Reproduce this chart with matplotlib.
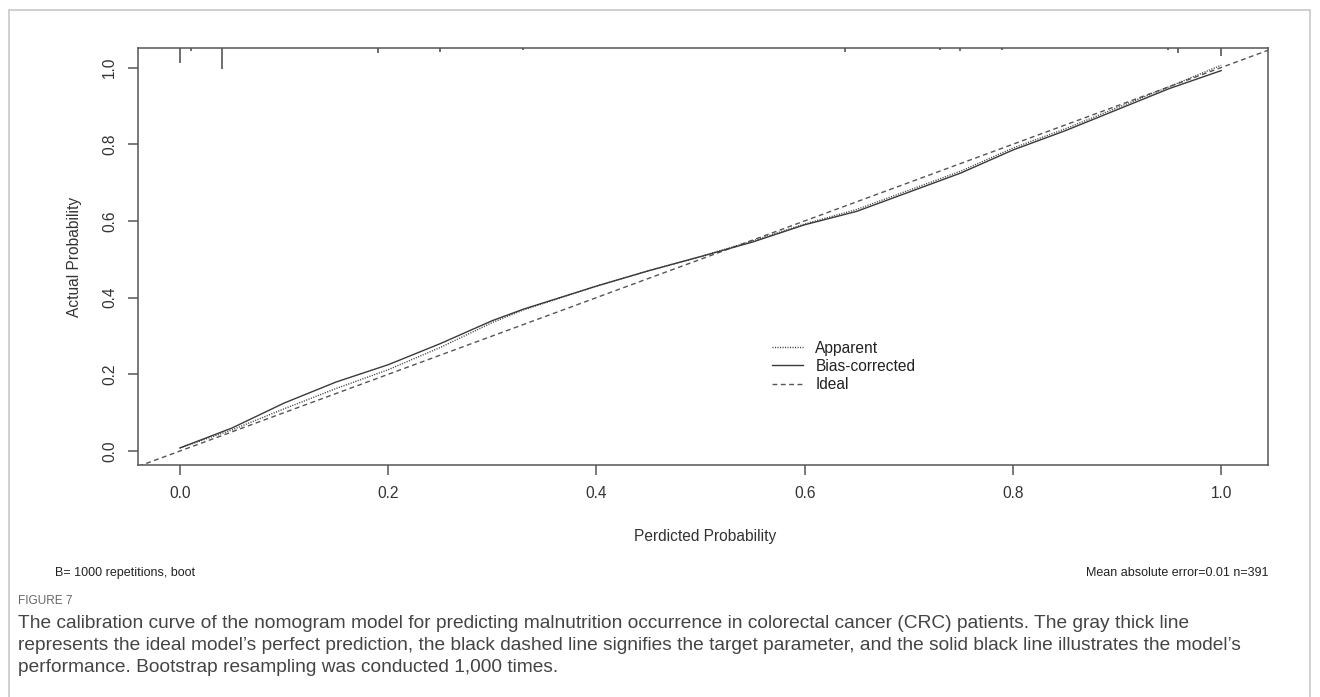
import matplotlib
matplotlib.use("Agg")
import matplotlib.pyplot as plt
from matplotlib.patches import Rectangle
from matplotlib.lines import Line2D
from matplotlib.transforms import blended_transform_factory

# calibration curves
pred = [0.0, 0.05, 0.1, 0.15, 0.2, 0.25, 0.3, 0.33, 0.4, 0.45, 0.5,
        0.55, 0.6, 0.65, 0.7, 0.75, 0.8, 0.85, 0.9, 0.95, 1.0]
bias_corrected = [0.008, 0.06, 0.125, 0.18, 0.225, 0.28, 0.34, 0.37, 0.43, 0.47, 0.507,
                  0.545, 0.59, 0.625, 0.675, 0.725, 0.785, 0.835, 0.89, 0.945, 0.992]
apparent = [0.008, 0.055, 0.11, 0.163, 0.212, 0.27, 0.335, 0.368, 0.43, 0.47, 0.507,
            0.548, 0.592, 0.63, 0.68, 0.73, 0.79, 0.84, 0.895, 0.95, 1.006]
ideal = [-0.1, 1.1]

# rug of predicted values along the top (relative frequencies)
rug_pred = [0.0, 0.0106, 0.0404, 0.19, 0.25, 0.3295, 0.639, 0.73, 0.749, 0.79, 0.949, 0.959, 1.0]
rug_freq = [15, 3, 21, 5, 4, 1.5, 4, 1.5, 3, 1.5, 1.5, 5, 8]

xticks = [0.0, 0.2, 0.4, 0.6, 0.8, 1.0]
yticks = [0.0, 0.2, 0.4, 0.6, 0.8, 1.0]

caption = ["The calibration curve of the nomogram model for predicting malnutrition occurrence in colorectal cancer (CRC) patients. The gray thick line",
           "represents the ideal model\u2019s perfect prediction, the black dashed line signifies the target parameter, and the solid black line illustrates the model\u2019s",
           "performance. Bootstrap resampling was conducted 1,000 times."]

W, H = 1320, 697
plt.rcParams['font.family'] = ['Liberation Sans', 'DejaVu Sans']
fig = plt.figure(figsize=(W / 100, H / 100), dpi=100)

# outer frame of the figure panel
fig.add_artist(Rectangle((9 / W, -0.02), 1301 / W, 1 - 10 / H + 0.02, transform=fig.transFigure,
                         fill=False, ec='#c8c8c8', lw=1.2))

ax = fig.add_axes([138 / W, 1 - 465 / H, (1268 - 138) / W, (465 - 48) / H])
ax.set_xlim(-0.0403, 1.045)
ax.set_ylim(-0.0365, 1.051)

ax.plot(ideal, ideal, color='#555555', lw=1.0, dashes=[3.5, 2.5])
ax.plot(pred, apparent, color='#444444', lw=1.0, dashes=[0.8, 1.0], label='Apparent')
ax.plot(pred, bias_corrected, color='#3a3a3a', lw=1.0, label='Bias-corrected')

tr = blended_transform_factory(ax.transData, ax.transAxes)
ax.vlines(rug_pred, 1, [1 - f / 417 for f in rug_freq], transform=tr, color='#555555', lw=1.2)

for s in ax.spines.values():
    s.set_color('#555555')
    s.set_linewidth(1.1)
ax.set_xticks(xticks)
ax.set_yticks(yticks)
ax.set_xticklabels([f"{v:.1f}" for v in xticks])
ax.set_yticklabels([f"{v:.1f}" for v in yticks], rotation=90, va='center')
ax.tick_params(length=7, width=1.1, color='#555555', labelsize=11.2, labelcolor='#333333', pad=8)

handles = [Line2D([], [], color='#444444', lw=1.0, dashes=[0.8, 1.0]),
           Line2D([], [], color='#3a3a3a', lw=1.0),
           Line2D([], [], color='#555555', lw=1.0, dashes=[3.5, 2.5])]
fig.legend(handles, ['Apparent', 'Bias-corrected', 'Ideal'], loc='upper left',
           bbox_to_anchor=(764 / W, 1 - 333 / H), frameon=False, fontsize=11.2,
           handlelength=2.0, handletextpad=0.8, labelspacing=0.2, borderpad=0,
           labelcolor='#222222')

fig.text(705 / W, 1 - 537 / H, 'Perdicted Probability', ha='center', va='center',
         fontsize=11.2, color='#333333')
fig.text(74 / W, 1 - 257 / H, 'Actual Probability', ha='center', va='center',
         rotation=90, fontsize=11.2, color='#333333')

narrow = ['Liberation Sans Narrow', 'Liberation Sans', 'DejaVu Sans']
fig.text(55 / W, 1 - 573 / H, 'B= 1000 repetitions, boot', ha='left', va='center',
         fontsize=9, color='#222222', family=narrow)
fig.text(1268 / W, 1 - 573 / H, 'Mean absolute error=0.01 n=391', ha='right', va='center',
         fontsize=9, color='#222222', family=narrow)

fig.text(18 / W, 1 - 601 / H, 'FIGURE 7', ha='left', va='center', fontsize=8.5,
         color='#666666', family=narrow)
for i, line in enumerate(caption):
    fig.text(18 / W, 1 - (623 + 22.5 * i) / H, line, ha='left', va='center',
             fontsize=13.8, color='#444444', family=narrow)

fig.savefig('out.png', dpi=100)
